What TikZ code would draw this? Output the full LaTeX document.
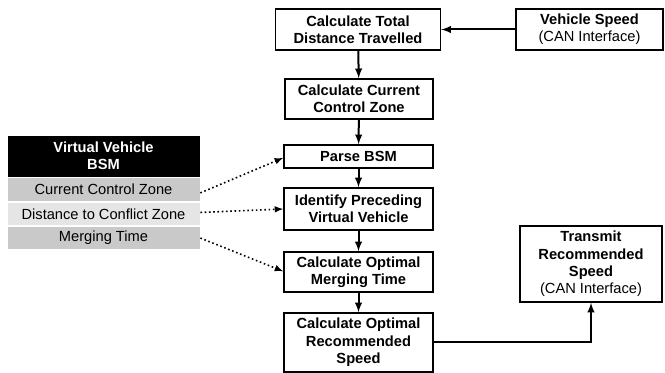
\documentclass[tikz,border=0pt]{standalone}
\usepackage{fontspec}
\setmainfont{Liberation Sans}
\usetikzlibrary{arrows}
\newcommand{\boxfont}{\fontsize{11}{13}\selectfont}

\begin{document}
\begin{tikzpicture}[x=0.75pt,y=-0.75pt,>=latex,font=\boxfont,
  proc/.style={draw=black,line width=1.1pt,fill=white,align=center,inner sep=0pt,
    font=\boxfont\bfseries,minimum width=111.75pt},
  row/.style={draw=white,line width=0.6pt,inner sep=0pt,minimum width=144.75pt,
    minimum height=17.6pt},
  flow/.style={->,line width=1.5pt},
  link/.style={->,dotted,line width=1.2pt}]
\useasboundingbox (0,0) rectangle (665,373);

% main chain
\node[proc,minimum width=123.75pt,minimum height=30.75pt] (total) at (358,29.5) {Calculate Total\\Distance Travelled};
\node[proc,minimum width=111pt,minimum height=30pt] (zone) at (359,99) {Calculate Current\\Control Zone};
\node[proc,minimum height=17.25pt] (parse) at (358.5,156.5) {Parse BSM};
\node[proc,minimum height=31.5pt] (ident) at (358.5,209) {Identify Preceding\\Virtual Vehicle};
\node[proc,minimum height=30pt] (merge) at (358.5,272) {Calculate Optimal\\Merging Time};
\node[proc,minimum height=44.25pt] (recspeed) at (358.5,342.5) {Calculate Optimal\\Recommended\\Speed};

% CAN side
\node[proc,minimum width=110.25pt,minimum height=30.75pt] (vspeed) at (589.5,29.5) {Vehicle Speed\\{\mdseries(CAN Interface)}};
\node[proc,minimum width=106.5pt,minimum height=57pt] (transmit) at (591,264) {Transmit\\Recommended\\Speed\\{\mdseries(CAN Interface)}};

% BSM table
\node[row,fill=black,text=white,font=\boxfont\bfseries,align=center,minimum height=31.5pt] (bsm) at (103.5,156) {Virtual Vehicle\\BSM};
\node[row,fill=black!21,anchor=north] (czone) at (bsm.south) {Current Control Zone};
\node[row,fill=black!10,anchor=north] (dist) at (czone.south) {Distance to Conflict Zone};
\node[row,fill=black!21,anchor=north] (mtime) at (dist.south) {Merging Time};

\draw[flow] (vspeed) -- (total);
\draw[flow] (total) -- (zone);
\draw[flow] (zone) -- (parse);
\draw[flow] (parse) -- (ident);
\draw[flow] (ident) -- (merge);
\draw[flow] (merge) -- (recspeed);
\draw[flow] (recspeed.east) -| (transmit.south);

\draw[link] ([yshift=-2.5pt]czone.east) -- ([yshift=-1pt]parse.west);
\draw[link] ([yshift=1pt]dist.east) -- (ident.west);
\draw[link] (mtime.east) -- ([yshift=0.5pt]merge.west);

\end{tikzpicture}
\end{document}
